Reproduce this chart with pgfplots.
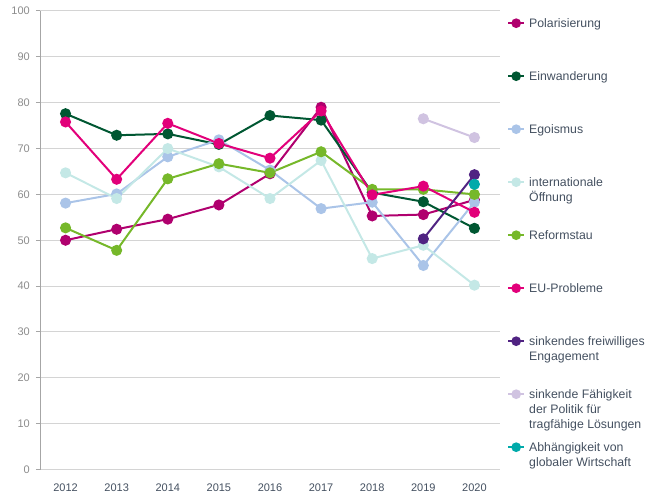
\documentclass[border=0pt]{standalone}
\usepackage{fontspec}
\setmainfont{Liberation Sans}
\usepackage{pgfplots}
\pgfplotsset{compat=1.18}
\definecolor{cPol}{RGB}{176,0,110}
\definecolor{cEin}{RGB}{0,87,50}
\definecolor{cEgo}{RGB}{170,196,232}
\definecolor{cInt}{RGB}{196,232,230}
\definecolor{cRef}{RGB}{118,184,42}
\definecolor{cEU}{RGB}{226,0,122}
\definecolor{cEng}{RGB}{80,35,130}
\definecolor{cFae}{RGB}{208,195,225}
\definecolor{cAbh}{RGB}{0,170,170}
\definecolor{gridgray}{RGB}{212,212,212}
\definecolor{axgray}{RGB}{166,166,166}
\definecolor{ylab}{RGB}{140,140,140}
\definecolor{xlab}{RGB}{68,80,96}
\newcommand{\lt}[1]{\raisebox{0pt}[31bp][22bp]{\parbox[t]{130bp}{\raggedright\fontsize{12.3bp}{15bp}\selectfont #1}}}
\begin{document}
\begin{tikzpicture}
\begin{axis}[name=ax, scale only axis, width=460bp, height=458.5bp,
  xmin=-0.5, xmax=8.5, ymin=0, ymax=100,
  xtick={0,1,2,3,4,5,6,7,8},
  xticklabels={2012,2013,2014,2015,2016,2017,2018,2019,2020},
  ytick={0,10,20,30,40,50,60,70,80,90,100},
  axis x line*=bottom, axis y line*=left,
  x axis line style={draw=gridgray, line width=1bp},
  y axis line style={draw=axgray, line width=1bp},
  ymajorgrids, grid style={draw=gridgray, line width=1bp},
  x tick style={draw=none},
  y tick style={draw=axgray, line width=1bp},
  major tick length=4bp, tick align=outside,
  /pgf/number format/assume math mode=true,
  /pgf/number format/1000 sep={},
  yticklabel style={font=\fontsize{11bp}{13bp}\selectfont, text=ylab, inner sep=0pt, xshift=-6bp},
  xticklabel style={font=\fontsize{11bp}{13bp}\selectfont, text=xlab, inner sep=0pt, yshift=-10.5bp},
  every axis plot/.append style={line width=2bp, mark=*, mark size=4.5bp},
  every mark/.append style={line width=0.4bp},
  legend style={at={(1,1)}, anchor=north west, xshift=7bp, yshift=14.5bp,
    draw=none, fill=none, inner sep=0pt, row sep=0pt, column sep=4bp,
    nodes={inner sep=0pt, text depth=}, text=xlab},
  legend cell align=left,
  legend image code/.code={\draw[mark repeat=2,mark phase=2,#1, line width=2bp, mark size=3.8bp] plot coordinates {(0bp,0bp)(8bp,0bp)(16bp,0bp)};},
]
\addplot[cPol] coordinates {(0,50.0)(1,52.4)(2,54.6)(3,57.7)(4,64.5)(5,79.0)(6,55.3)(7,55.6)(8,58.8)};
\addlegendentry{\lt{Polarisierung}}
\addplot[cEin] coordinates {(0,77.6)(1,72.9)(2,73.2)(3,70.9)(4,77.2)(5,76.2)(6,60.4)(7,58.4)(8,52.6)};
\addlegendentry{\lt{Einwanderung}}
\addplot[cEgo] coordinates {(0,58.1)(1,60.1)(2,68.2)(3,71.9)(4,65.3)(5,56.9)(6,58.3)(7,44.5)(8,58.3)};
\addlegendentry{\lt{Egoismus}}
\addplot[cInt] coordinates {(0,64.7)(1,59.1)(2,70.0)(3,66.0)(4,59.1)(5,67.4)(6,46.0)(7,48.9)(8,40.2)};
\addlegendentry{\lt{internationale\\Öffnung}}
\addplot[cRef] coordinates {(0,52.7)(1,47.8)(2,63.4)(3,66.7)(4,64.7)(5,69.3)(6,61.1)(7,61.1)(8,60.0)};
\addlegendentry{\lt{Reformstau}}
\addplot[cEU] coordinates {(0,75.8)(1,63.3)(2,75.5)(3,71.1)(4,67.9)(5,78.2)(6,59.9)(7,61.8)(8,56.1)};
\addlegendentry{\lt{EU-Probleme}}
\addplot[cEng] coordinates {(7,50.3)(8,64.3)};
\addlegendentry{\lt{sinkendes freiwilliges\\Engagement}}
\addplot[cFae] coordinates {(7,76.5)(8,72.4)};
\addlegendentry{\lt{sinkende Fähigkeit\\der Politik für\\tragfähige Lösungen}}
\addplot[cAbh] coordinates {(8,62.2)};
\addlegendentry{\lt{Abhängigkeit von\\globaler Wirtschaft}}
\end{axis}
\pgfresetboundingbox
\path (ax.south west) ++(-40bp,-27.5bp) rectangle ++(657bp,497bp);
\end{tikzpicture}
\end{document}
